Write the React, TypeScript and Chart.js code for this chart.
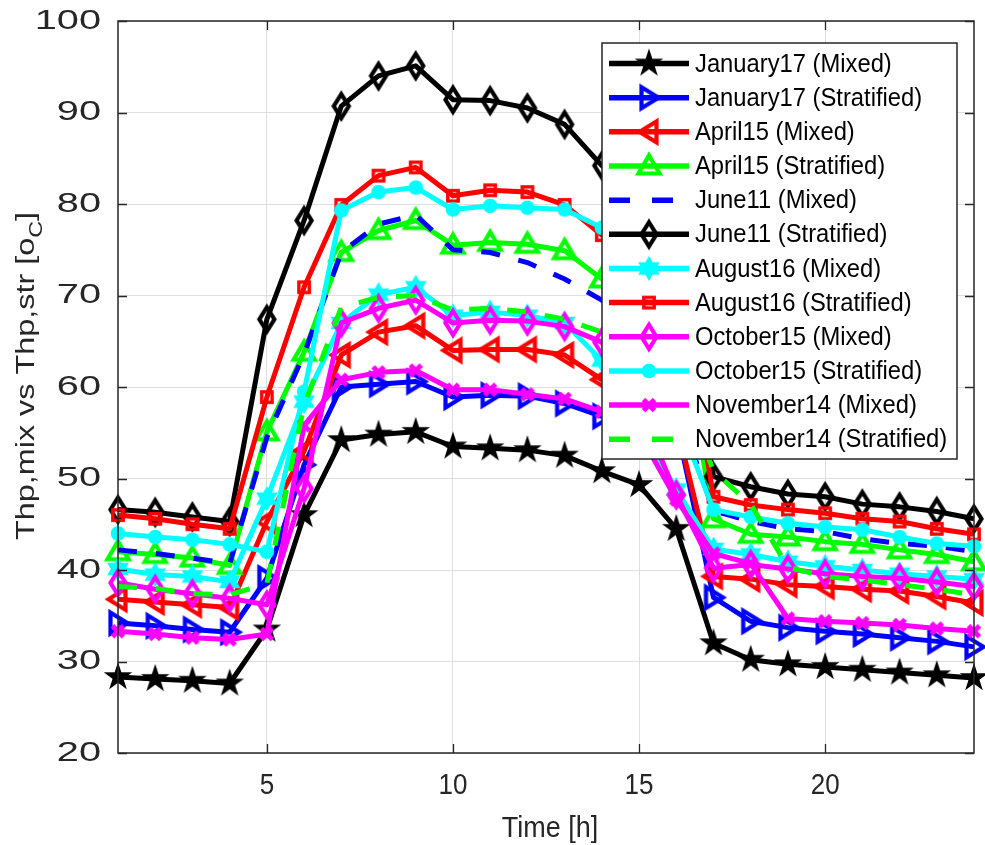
import React, { useEffect, useRef } from 'react';
import { Chart, registerables } from 'chart.js';

Chart.register(...registerables);

// ---------------- data ----------------
const hours = [1, 2, 3, 4, 5, 6, 7, 8, 9, 10, 11, 12, 13, 14, 15, 16, 17, 18, 19, 20, 21, 22, 23, 24];

const jan17Mixed = [28.3, 28.1, 27.9, 27.6, 33.5, 46.0, 54.2, 54.8, 55.1, 53.5, 53.3, 53.1, 52.5, 50.8, 49.3, 44.5, 32.0, 30.2, 29.7, 29.4, 29.1, 28.8, 28.5, 28.2];
const jan17Strat = [34.2, 33.9, 33.5, 33.2, 39.1, 51.5, 60.0, 60.3, 60.6, 58.9, 59.1, 59.0, 58.2, 56.8, 56.5, 56.0, 37.0, 34.4, 33.7, 33.3, 33.0, 32.6, 32.2, 31.6];
const apr15Mixed = [36.8, 36.5, 36.2, 35.9, 45.3, 53.0, 63.5, 66.0, 66.7, 64.0, 64.1, 64.1, 63.5, 60.8, 58.5, 56.0, 39.3, 39.0, 38.4, 38.2, 37.9, 37.7, 37.1, 36.4];
const apr15Strat = [42.0, 41.7, 41.3, 40.5, 55.1, 63.8, 74.7, 77.1, 78.2, 75.5, 75.8, 75.6, 74.9, 71.8, 70.5, 69.0, 45.6, 43.9, 43.6, 43.1, 42.8, 42.2, 41.7, 40.9];
const jun11Mixed = [42.2, 41.8, 41.3, 40.7, 54.5, 63.6, 74.7, 77.8, 78.8, 75.0, 74.7, 73.6, 71.8, 69.5, 65.0, 58.0, 46.5, 45.3, 44.5, 44.2, 43.4, 42.9, 42.6, 42.0];
const jun11Strat = [46.6, 46.3, 45.8, 45.3, 67.4, 78.2, 90.7, 94.0, 95.1, 91.4, 91.3, 90.5, 88.7, 84.2, 80.0, 76.0, 50.2, 49.1, 48.3, 48.0, 47.2, 46.9, 46.4, 45.6];
const aug16Mixed = [40.1, 39.5, 39.3, 38.7, 47.8, 58.4, 67.0, 70.1, 70.9, 67.8, 68.2, 67.8, 67.0, 62.9, 56.0, 48.8, 42.3, 41.7, 40.9, 40.4, 40.0, 39.6, 39.3, 39.0];
const aug16Strat = [46.0, 45.6, 45.0, 44.5, 58.9, 70.9, 79.9, 83.1, 84.0, 80.9, 81.5, 81.3, 79.9, 76.6, 75.0, 73.0, 48.0, 47.1, 46.6, 46.2, 45.6, 45.3, 44.5, 43.9];
const oct15Mixed = [38.6, 37.9, 37.4, 36.9, 36.2, 48.9, 67.0, 68.6, 69.5, 67.0, 67.3, 67.2, 66.6, 64.9, 58.0, 48.2, 40.2, 40.6, 40.1, 39.6, 39.3, 39.1, 38.7, 38.2];
const oct15Strat = [44.0, 43.6, 43.3, 42.8, 42.0, 59.5, 79.3, 81.3, 81.8, 79.4, 79.8, 79.6, 79.4, 77.4, 68.0, 57.0, 46.6, 45.8, 45.1, 44.7, 44.4, 43.6, 42.9, 42.6];
const nov14Mixed = [33.3, 33.0, 32.6, 32.4, 33.0, 55.8, 60.8, 61.6, 61.8, 59.7, 59.7, 59.2, 58.7, 57.3, 55.0, 47.7, 41.8, 40.7, 34.7, 34.4, 34.2, 34.0, 33.6, 33.3];
const nov14Strat = [38.2, 38.0, 37.4, 37.3, 38.5, 58.0, 68.7, 69.8, 70.0, 68.4, 68.6, 68.2, 67.4, 66.0, 64.0, 62.0, 50.8, 47.2, 40.3, 39.3, 38.9, 38.4, 37.9, 37.3];

const seriesLabels = [
  'January17 (Mixed)',
  'January17 (Stratified)',
  'April15 (Mixed)',
  'April15 (Stratified)',
  'June11 (Mixed)',
  'June11 (Stratified)',
  'August16 (Mixed)',
  'August16 (Stratified)',
  'October15 (Mixed)',
  'October15 (Stratified)',
  'November14 (Mixed)',
  'November14 (Stratified)',
];
const seriesValues = [jan17Mixed, jan17Strat, apr15Mixed, apr15Strat, jun11Mixed, jun11Strat, aug16Mixed, aug16Strat, oct15Mixed, oct15Strat, nov14Mixed, nov14Strat];
const seriesColors = ['#000000', '#0000ff', '#ff0000', '#00ff00', '#0000ff', '#000000', '#00ffff', '#ff0000', '#ff00ff', '#00ffff', '#ff00ff', '#00ff00'];
const seriesMarkers = ['pentagram', 'triRight', 'triLeft', 'triUp', 'none', 'diamond', 'hexagram', 'square', 'diamond', 'circle', 'x', 'none'];
const seriesDashed = [false, false, false, false, true, false, false, false, false, false, false, true];

const xTicks = [5, 10, 15, 20];
const yTicks = [20, 30, 40, 50, 60, 70, 80, 90, 100];
const xTitle = 'Time [h]';
const yTitleMain = 'Thp,mix vs Thp,str [o';
const yTitleSub = 'C';
const yTitleEnd = ']';

// ---------------- styling ----------------
const FONT = '"Liberation Sans", Arial, Helvetica, sans-serif';
const AXIS_COLOR = '#262626';
const LINE_W = 5;
const DASH = [19, 19];

function starPath(ctx: CanvasRenderingContext2D, n: number, outer: number, inner: number) {
  ctx.beginPath();
  for (let i = 0; i < n * 2; i++) {
    const ang = -Math.PI / 2 + (i * Math.PI) / n;
    const r = i % 2 === 0 ? outer : inner;
    const px = Math.cos(ang) * r;
    const py = Math.sin(ang) * r;
    if (i === 0) ctx.moveTo(px, py);
    else ctx.lineTo(px, py);
  }
  ctx.closePath();
}

function polyPath(ctx: CanvasRenderingContext2D, pts: number[][]) {
  ctx.beginPath();
  pts.forEach((p, i) => (i === 0 ? ctx.moveTo(p[0], p[1]) : ctx.lineTo(p[0], p[1])));
  ctx.closePath();
}

function makeMarker(kind: string, color: string): HTMLCanvasElement | null {
  if (kind === 'none') return null;
  const S = 40;
  const c = document.createElement('canvas');
  c.width = S;
  c.height = S;
  const ctx = c.getContext('2d')!;
  ctx.translate(S / 2, S / 2);
  ctx.strokeStyle = color;
  ctx.fillStyle = color;
  ctx.lineWidth = 4.2;
  ctx.lineJoin = 'miter';
  ctx.miterLimit = 4;
  switch (kind) {
    case 'pentagram':
      starPath(ctx, 5, 15, 15 * 0.382);
      ctx.fill();
      break;
    case 'hexagram':
      starPath(ctx, 6, 12.5, 12.5 * 0.577);
      ctx.fill();
      break;
    case 'triRight':
      polyPath(ctx, [[-7.5, -10.5], [9.5, 0], [-7.5, 10.5]]);
      ctx.stroke();
      break;
    case 'triLeft':
      polyPath(ctx, [[7.5, -10.5], [-9.5, 0], [7.5, 10.5]]);
      ctx.stroke();
      break;
    case 'triUp':
      polyPath(ctx, [[0, -10.5], [10.5, 7.5], [-10.5, 7.5]]);
      ctx.stroke();
      break;
    case 'diamond':
      polyPath(ctx, [[0, -12], [7.5, 0], [0, 12], [-7.5, 0]]);
      ctx.stroke();
      break;
    case 'square':
      ctx.lineWidth = 3.4;
      ctx.strokeRect(-5.2, -5.2, 10.4, 10.4);
      break;
    case 'circle':
      ctx.beginPath();
      ctx.arc(0, 0, 7.3, 0, Math.PI * 2);
      ctx.fill();
      break;
    case 'x':
      ctx.lineWidth = 5;
      ctx.lineCap = 'butt';
      ctx.beginPath();
      ctx.moveTo(-5.5, -5.5);
      ctx.lineTo(5.5, 5.5);
      ctx.moveTo(-5.5, 5.5);
      ctx.lineTo(5.5, -5.5);
      ctx.stroke();
      break;
  }
  return c;
}

export default function App() {
  const canvasRef = useRef<HTMLCanvasElement | null>(null);

  useEffect(() => {
    const canvas = canvasRef.current;
    if (!canvas) return;
    const markers = seriesMarkers.map((m, i) => makeMarker(m, seriesColors[i]));
    const n = seriesLabels.length;

    const datasets = seriesLabels.map((label, i) => ({
      label,
      data: hours.map((h, j) => ({ x: h, y: seriesValues[i][j] })),
      borderColor: seriesColors[i],
      backgroundColor: seriesColors[i],
      borderWidth: LINE_W,
      borderDash: seriesDashed[i] ? DASH : [],
      borderCapStyle: 'butt' as const,
      borderJoinStyle: 'round' as const,
      tension: 0,
      pointStyle: markers[i] ? (markers[i] as any) : false,
      pointRadius: markers[i] ? 6 : 0,
      pointHoverRadius: markers[i] ? 6 : 0,
      clip: false as any,
      order: n - i,
    }));

    const matlabPlugin = {
      id: 'matlabAxes',
      afterDatasetsDraw(chart: any) {
        const { ctx, chartArea: a, scales } = chart;
        const xs = scales.x;
        const ys = scales.y;
        ctx.save();
        // box
        ctx.strokeStyle = AXIS_COLOR;
        ctx.lineWidth = 1.5;
        ctx.setLineDash([]);
        ctx.strokeRect(a.left, a.top, a.right - a.left, a.bottom - a.top);
        // inward ticks
        ctx.lineWidth = 1.3;
        const tl = 9;
        ctx.beginPath();
        xTicks.forEach((v) => {
          const px = Math.round(xs.getPixelForValue(v)) + 0.5;
          ctx.moveTo(px, a.bottom);
          ctx.lineTo(px, a.bottom - tl);
          ctx.moveTo(px, a.top);
          ctx.lineTo(px, a.top + tl);
        });
        yTicks.forEach((v) => {
          const py = Math.round(ys.getPixelForValue(v)) + 0.5;
          ctx.moveTo(a.left, py);
          ctx.lineTo(a.left + tl, py);
          ctx.moveTo(a.right, py);
          ctx.lineTo(a.right - tl, py);
        });
        ctx.stroke();

        // tick labels
        ctx.fillStyle = AXIS_COLOR;
        ctx.textAlign = 'center';
        ctx.textBaseline = 'middle';
        ctx.font = `26px ${FONT}`;
        xTicks.forEach((v) => {
          ctx.save();
          ctx.translate(xs.getPixelForValue(v), a.bottom + 33);
          ctx.scale(1, 1.12);
          ctx.fillText(String(v), 0, 0);
          ctx.restore();
        });
        ctx.textAlign = 'right';
        ctx.font = `28px ${FONT}`;
        yTicks.forEach((v) => {
          ctx.save();
          ctx.translate(a.left - 17, ys.getPixelForValue(v));
          ctx.scale(1.42, 1);
          ctx.fillText(String(v), 0, 0);
          ctx.restore();
        });

        // x title
        ctx.textAlign = 'center';
        ctx.textBaseline = 'alphabetic';
        ctx.font = `27px ${FONT}`;
        ctx.save();
        ctx.translate((a.left + a.right) / 2 + 4, 837);
        ctx.scale(1, 1.08);
        ctx.fillText(xTitle, 0, 0);
        ctx.restore();

        // y title (rotated, with subscript)
        ctx.save();
        ctx.translate(34, 540);
        ctx.rotate(-Math.PI / 2);
        ctx.textAlign = 'left';
        const mainFont = `25px ${FONT}`;
        const subFont = `18px ${FONT}`;
        ctx.font = mainFont;
        const w1 = ctx.measureText(yTitleMain).width;
        const w3 = ctx.measureText(yTitleEnd).width;
        ctx.font = subFont;
        const w2 = ctx.measureText(yTitleSub).width;
        const total = w1 + w2 + w3;
        const f = 328 / total;
        ctx.scale(f, 1);
        ctx.font = mainFont;
        ctx.fillText(yTitleMain, 0, 0);
        ctx.font = subFont;
        ctx.fillText(yTitleSub, w1, 8);
        ctx.font = mainFont;
        ctx.fillText(yTitleEnd, w1 + w2, 0);
        ctx.restore();

        // legend
        const lx = 602;
        const ly = 43;
        const lw = 355;
        const lh = 416;
        ctx.fillStyle = '#ffffff';
        ctx.fillRect(lx, ly, lw, lh);
        ctx.strokeStyle = AXIS_COLOR;
        ctx.lineWidth = 1.5;
        ctx.strokeRect(lx, ly, lw, lh);
        const pitch = 34.16;
        seriesLabels.forEach((label, i) => {
          const cy = 63.5 + i * pitch;
          ctx.save();
          ctx.strokeStyle = seriesColors[i];
          ctx.lineWidth = 5.5;
          ctx.lineCap = 'butt';
          ctx.setLineDash(seriesDashed[i] ? [21, 22] : []);
          ctx.beginPath();
          ctx.moveTo(609, cy);
          ctx.lineTo(689, cy);
          ctx.stroke();
          ctx.restore();
          const m = markers[i];
          if (m) ctx.drawImage(m, 649 - m.width / 2, cy - m.height / 2);
          ctx.fillStyle = '#000000';
          ctx.font = `24px ${FONT}`;
          ctx.textAlign = 'left';
          ctx.textBaseline = 'middle';
          ctx.save();
          ctx.translate(695, cy + 1);
          ctx.scale(0.99, 1.08);
          ctx.fillText(label, 0, 0);
          ctx.restore();
        });
        ctx.restore();
      },
    };

    const chart = new Chart(canvas, {
      type: 'line',
      data: { datasets: datasets as any },
      options: {
        animation: false,
        responsive: false,
        events: [],
        layout: { padding: { top: 21, right: 10, left: 0, bottom: 0 } },
        plugins: {
          legend: { display: false },
          tooltip: { enabled: false },
          title: { display: false },
        },
        scales: {
          x: {
            type: 'linear',
            min: 1,
            max: 24,
            afterBuildTicks: (s: any) => {
              s.ticks = xTicks.map((v) => ({ value: v }));
            },
            afterFit: (s: any) => {
              s.height = 92;
            },
            ticks: { display: false },
            grid: { color: '#dedede', lineWidth: 1, drawTicks: false },
            border: { display: false },
          },
          y: {
            type: 'linear',
            min: 20,
            max: 100,
            afterBuildTicks: (s: any) => {
              s.ticks = yTicks.map((v) => ({ value: v }));
            },
            afterFit: (s: any) => {
              s.width = 118;
            },
            ticks: { display: false },
            grid: { color: '#dedede', lineWidth: 1, drawTicks: false },
            border: { display: false },
          },
        },
      } as any,
      plugins: [matlabPlugin],
    });

    return () => {
      chart.destroy();
    };
  }, []);

  return (
    <div style={{ position: 'fixed', left: 0, top: 0, width: 985, height: 845, background: '#ffffff' }}>
      <canvas ref={canvasRef} width={985} height={845} style={{ display: 'block', width: 985, height: 845 }} />
    </div>
  );
}
